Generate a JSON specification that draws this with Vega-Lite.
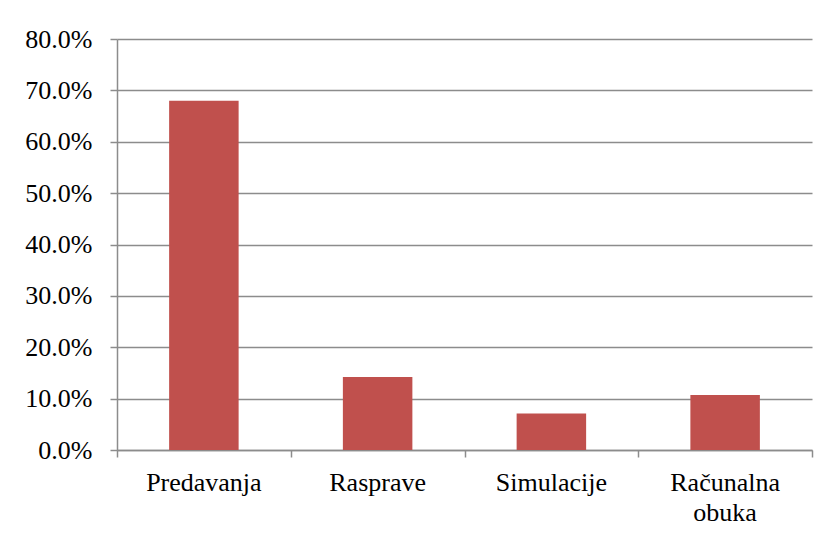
{
  "$schema": "https://vega.github.io/schema/vega-lite/v6.json",
  "width": 695,
  "height": 411,
  "autosize": {"type": "none"},
  "padding": {"left": 117, "top": 39, "right": 20, "bottom": 85},
  "background": "white",
  "config": {
    "view": {"stroke": null},
    "font": "Liberation Serif",
    "style": {"guide-label": {"font": "Liberation Serif"}},
    "axis": {"labelFont": "Liberation Serif", "labelFontSize": 26, "labelColor": "#000000", "domainColor": "#8c8c8c", "tickColor": "#8c8c8c", "gridColor": "#8c8c8c", "domainWidth": 1.5, "tickWidth": 1.5, "gridWidth": 1.5, "title": null}
  },
  "data": {"values": [
    {"metoda": "Predavanja", "udio": 0.680},
    {"metoda": "Rasprave", "udio": 0.142},
    {"metoda": "Simulacije", "udio": 0.071},
    {"metoda": "Računalna obuka", "udio": 0.107}
  ]},
  "resolve": {"scale": {"x": "independent"}, "axis": {"x": "independent"}},
  "layer": [
    {
      "mark": {"type": "bar", "color": "#C0504D"},
      "encoding": {
        "x": {"field": "metoda", "type": "nominal", "sort": null,
              "scale": {"paddingInner": 0.6, "paddingOuter": 0.3},
              "axis": {"orient": "bottom", "labelAngle": 0, "labelFont": "Liberation Serif", "ticks": false, "tickSize": 0, "labelPadding": 19, "labelLineHeight": 30, "grid": false,
                       "labelExpr": "datum.value == 'Računalna obuka' ? ['Računalna', 'obuka'] : datum.value"}},
        "y": {"field": "udio", "type": "quantitative",
              "scale": {"domain": [0, 0.8], "nice": false},
              "axis": {"values": [0, 0.1, 0.2, 0.3, 0.4, 0.5, 0.6, 0.7, 0.8], "format": ".1%", "labelFont": "Liberation Serif", "tickSize": 7, "labelPadding": 18, "grid": true}}
      }
    },
    {
      "mark": {"type": "bar", "opacity": 0},
      "encoding": {
        "x": {"field": "metoda", "type": "nominal", "sort": null,
              "scale": {"paddingInner": 0, "paddingOuter": 0},
              "axis": {"orient": "bottom", "tickBand": "extent", "labels": false, "domain": false, "ticks": true, "tickSize": 7, "grid": false}},
        "y": {"field": "udio", "type": "quantitative"}
      }
    }
  ]
}
